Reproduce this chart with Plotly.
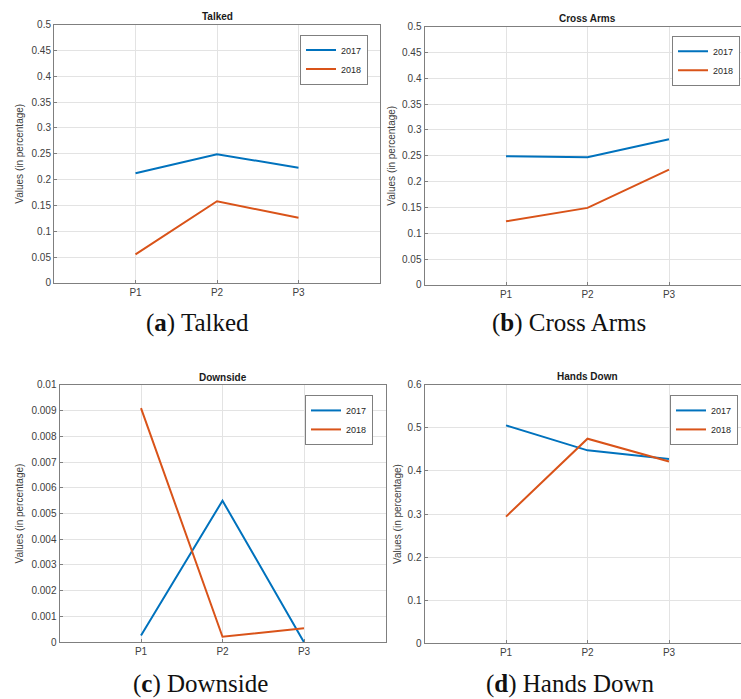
import plotly.graph_objects as go

categories = ["P1", "P2", "P3"]
x_pos = [1, 2, 3]

talked_2017 = [0.212, 0.249, 0.223]
talked_2018 = [0.055, 0.158, 0.126]

cross_2017 = [0.249, 0.247, 0.282]
cross_2018 = [0.123, 0.149, 0.223]

down_2017 = [0.00026, 0.0055, 0.0]
down_2018 = [0.0091, 0.00021, 0.00054]

hands_2017 = [0.506, 0.448, 0.428]
hands_2018 = [0.294, 0.475, 0.422]

titles = ["Talked", "Cross Arms", "Downside", "Hands Down"]
captions = ["(<b>a</b>) Talked", "(<b>b</b>) Cross Arms", "(<b>c</b>) Downside", "(<b>d</b>) Hands Down"]
series_names = ["2017", "2018"]
colors = ["#0072BD", "#D95319"]

W, H = 741, 699

def px(x):
    return x / W

def py(y):
    # target pixel row -> paper fraction (small vertical correction for the capture)
    yl = (y - 5.4) / 0.982
    return (H - yl) / H

panels = [
    dict(l=54, r=380, t=24, b=282, xmax=4.0, ymax=0.5, dtick=0.05, lr=368, lt=34, ty=16, cx=197, cy=322, yl=20, data=(talked_2017, talked_2018), mirror_y=True),
    dict(l=424.5, r=741, t=26, b=284, xmax=(741 - 424.5) / 81.5, ymax=0.5, dtick=0.05, lr=740, lt=35, ty=18, cx=569, cy=322, yl=392, data=(cross_2017, cross_2018), mirror_y=False),
    dict(l=59.5, r=385.5, t=384, b=641, xmax=4.0, ymax=0.01, dtick=0.001, lr=373, lt=394, ty=377, cx=200, cy=683, yl=20, data=(down_2017, down_2018), mirror_y=True),
    dict(l=424.5, r=741, t=384, b=642, xmax=(741 - 424.5) / 81.5, ymax=0.6, dtick=0.1, lr=738, lt=394, ty=376, cx=570, cy=683, yl=397, data=(hands_2017, hands_2018), mirror_y=False),
]

fig = go.Figure()
layout = dict(
    width=W, height=H,
    margin=dict(l=0, r=0, t=0, b=0),
    paper_bgcolor="white", plot_bgcolor="white",
    font=dict(family="Liberation Sans, Arial, sans-serif", color="#404040"),
    annotations=[],
)

axis_color = "#7f7f7f"
grid_color = "#e3e3e3"

for i, p in enumerate(panels):
    n = i + 1
    xa = "x" if n == 1 else f"x{n}"
    ya = "y" if n == 1 else f"y{n}"
    leg = "legend" if n == 1 else f"legend{n}"
    for s in range(2):
        fig.add_trace(go.Scatter(
            x=x_pos, y=p["data"][s], mode="lines", name=series_names[s],
            line=dict(color=colors[s], width=2),
            xaxis=xa, yaxis=ya, legend=leg, showlegend=True,
        ))
    layout[f"xaxis{'' if n == 1 else n}"] = dict(
        domain=[px(p["l"]), px(p["r"])], range=[0, p["xmax"]],
        anchor=ya, tickmode="array", tickvals=x_pos, ticktext=categories,
        showgrid=True, gridcolor=grid_color, gridwidth=1, zeroline=False,
        showline=True, linecolor=axis_color, linewidth=1, mirror=True,
        ticks="inside", ticklen=3, tickcolor=axis_color,
        tickfont=dict(size=10, color="#404040"), fixedrange=True,
    )
    layout[f"yaxis{'' if n == 1 else n}"] = dict(
        domain=[py(p["b"]), py(p["t"])], range=[0, p["ymax"]],
        anchor=xa, dtick=p["dtick"], tick0=0,
        showgrid=True, gridcolor=grid_color, gridwidth=1, zeroline=False,
        showline=True, linecolor=axis_color, linewidth=1, mirror=p["mirror_y"],
        ticks="inside", ticklen=3, tickcolor=axis_color,
        tickfont=dict(size=10, color="#404040"), fixedrange=True,
    )
    layout[leg] = dict(
        x=px(p["lr"]), y=py(p["lt"]), xanchor="right", yanchor="top",
        bgcolor="white", bordercolor="#7f7f7f", borderwidth=1,
        font=dict(size=9, color="#262626"),
        itemwidth=30, tracegroupgap=0,
    )
    layout["annotations"].append(dict(
        x=px(p["l"] + 163), y=py(p["ty"]), xref="paper", yref="paper",
        text=f"<b>{titles[i]}</b>", showarrow=False,
        font=dict(size=10, color="#1a1a1a"), xanchor="center", yanchor="middle",
    ))
    layout["annotations"].append(dict(
        x=px(p["yl"]), y=py((p["t"] + p["b"]) / 2), xref="paper", yref="paper",
        text="Values (in percentage)", showarrow=False, textangle=-90,
        font=dict(size=10, color="#404040"), xanchor="center", yanchor="middle",
    ))
    layout["annotations"].append(dict(
        x=px(p["cx"]), y=py(p["cy"]), xref="paper", yref="paper",
        text=captions[i], showarrow=False,
        font=dict(size=25, color="#111111", family="Liberation Serif, DejaVu Serif, serif"),
        xanchor="center", yanchor="middle",
    ))

fig.update_layout(**layout)

page_fix = (
    "var de=document.documentElement, b=document.body;"
    "[de,b].forEach(function(e){e.style.margin='0';e.style.padding='0';"
    "e.style.overflow='hidden';});"
)
fig.write_html("out.html", config={"displayModeBar": False}, post_script=page_fix)
